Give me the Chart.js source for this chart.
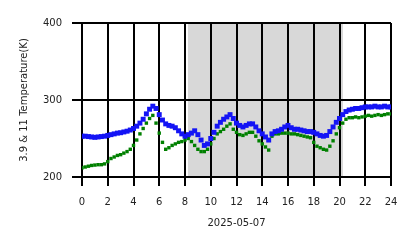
<!DOCTYPE html>
<html>
<head>
<meta charset="utf-8">
<script src="https://cdn.jsdelivr.net/npm/chart.js@4.4.0/dist/chart.umd.min.js"></script>
<style>
html,body{margin:0;padding:0;background:#fff;}
#wrap{width:418px;height:248px;}
</style>
</head>
<body>
<div id="wrap"><canvas id="c" width="418" height="248"></canvas></div>
<script>
const hours = [];
for (let i = 0; i <= 96; i++) hours.push(i * 0.25);

const ch39 = [253,253,252.5,252,251.5,252,252.5,253,254,255,256,257,257.5,258.5,259.5,261,
263,266,270,275,282,288,292,289,281,274,269,267,266,264,260,256,
253,255,257,260,255,248,241,243,250,258,266,271,275,278,281,276,
270,267,265,267,269,269,265,260,256,252,248,256,259,260,262,265,
267,264,262,262,261,260,259,259,258,256,254,253,254,259,265,271,
276,281,285,287,288,289,289,290,291,291,291,292,291,291,292,291,291];

const ch11 = [212,213,214,215,215.5,216,216,217,220,224,226,228,229,231,233,236,
241,248,256,263,270,276,280,270,257,245,236,238,241,243,245,246,
248,250,246,241,236,233,233,236,243,250,256,259,262,266,269,262,
258,255,254,256,258,258,253,247,243,239,235,253,256,256,257,257,
257,256,256,255,254,253,252,251,245,240,238,236,235,240,247,256,
264,270,275,277,277,278,277,278,279,280,279,280,281,280,281,282,282];

const yTicks = [200, 300, 400];
const xTicks = [0,2,4,6,8,10,12,14,16,18,20,22,24];
const nightStart = 8.23;
const nightEnd = 20.27;
const xTitle = '2025-05-07';
const yTitle = '3.9 & 11 Temperature(K)';

const shade = {
  id: 'shade',
  beforeDraw(chart) {
    const {ctx, chartArea, scales} = chart;
    const x0 = scales.x.getPixelForValue(nightStart);
    const x1 = scales.x.getPixelForValue(nightEnd);
    ctx.save();
    ctx.fillStyle = 'rgb(216,216,216)';
    ctx.fillRect(x0, chartArea.top, x1 - x0, chartArea.bottom - chartArea.top);
    ctx.restore();
  }
};

const font = {family: 'DejaVu Sans', size: 10};

new Chart(document.getElementById('c'), {
  type: 'scatter',
  data: {
    datasets: [
      {
        label: '3.9',
        data: hours.map((h, i) => ({x: h, y: ch39[i]})),
        pointStyle: 'rect',
        pointRadius: 3.5,
        borderWidth: 0,
        backgroundColor: 'rgb(20,20,245)'
      },
      {
        label: '11',
        data: hours.map((h, i) => ({x: h, y: ch11[i]})),
        pointStyle: 'rect',
        pointRadius: 2.4,
        borderWidth: 0,
        backgroundColor: 'rgb(0,128,0)'
      }
    ]
  },
  options: {
    responsive: false,
    animation: false,
    events: [],
    layout: {padding: {left: 0, right: 27, top: 23, bottom: 0}},
    plugins: {legend: {display: false}, tooltip: {enabled: false}},
    scales: {
      x: {
        type: 'linear',
        min: 0, max: 24,
        afterBuildTicks: s => { s.ticks = xTicks.map(v => ({value: v})); },
        afterFit: s => { s.height = 71; },
        grid: {color: '#000', lineWidth: 2, drawTicks: true, tickLength: 9, tickColor: '#000'},
        border: {display: false},
        ticks: {font, color: '#222', padding: 10, maxRotation: 0, autoSkip: false},
        title: {display: true, text: xTitle, font, color: '#222', padding: {top: 4, bottom: 19}}
      },
      y: {
        type: 'linear',
        min: 200, max: 400,
        afterBuildTicks: s => { s.ticks = yTicks.map(v => ({value: v})); },
        afterFit: s => { s.width = 82; },
        grid: {color: '#000', lineWidth: 2, drawTicks: true, tickLength: 10, tickColor: '#000'},
        border: {display: false},
        ticks: {font, color: '#222', padding: 10},
        title: {display: true, text: yTitle, font, color: '#222', padding: {top: 18, bottom: 0}}
      }
    }
  },
  plugins: [shade]
});
</script>
</body>
</html>
